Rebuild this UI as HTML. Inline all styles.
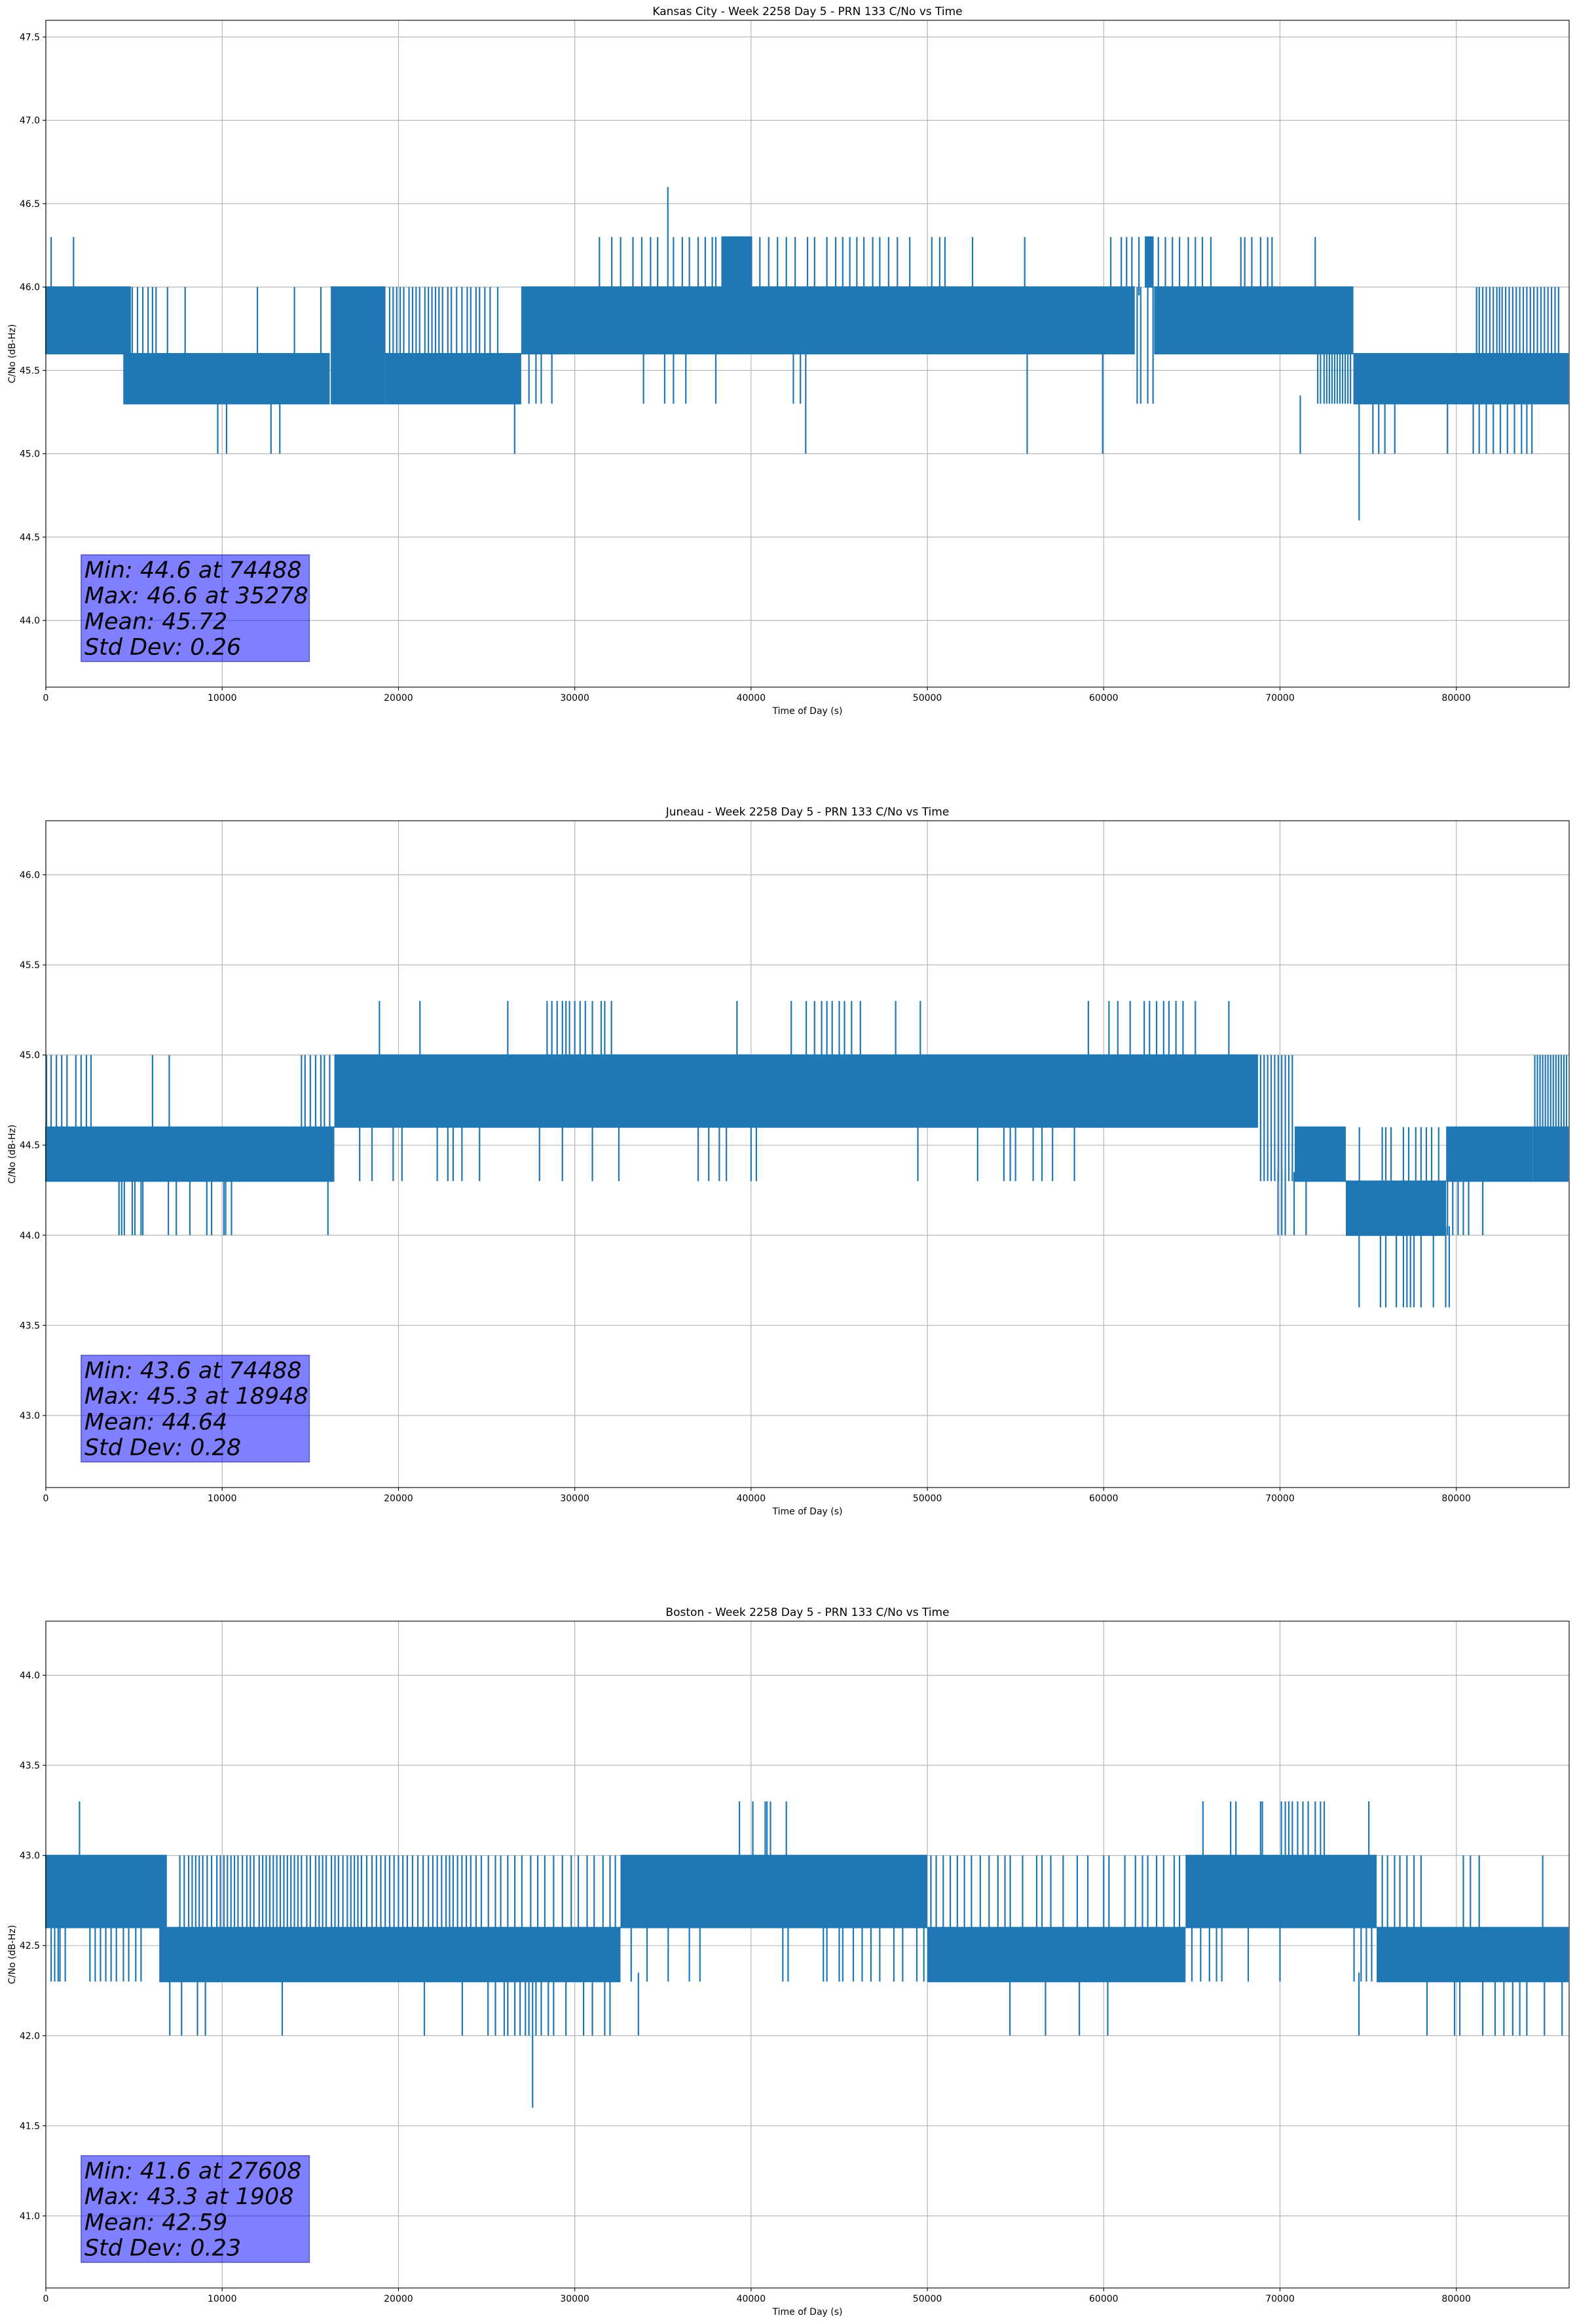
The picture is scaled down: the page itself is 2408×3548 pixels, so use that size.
<!DOCTYPE html>
<html><head><meta charset="utf-8"><title>PRN 133 C/No vs Time</title>
<style>
html,body{margin:0;padding:0;background:#fff;}
svg{display:block;font-family:"DejaVu Sans","Liberation Sans",sans-serif;}
</style></head>
<body>
<svg id="fig" width="2408" height="3548" viewBox="0 0 2408 3548" xmlns="http://www.w3.org/2000/svg"></svg>
<script>
// ---------- shared axis data ----------
const xTicks = [0,10000,20000,30000,40000,50000,60000,70000,80000];
const xMax = 86400;

// ---------- Kansas City ----------
const kcTitle = "Kansas City - Week 2258 Day 5 - PRN 133 C/No vs Time";
const kcYRange = [43.6, 47.6];
const kcYTicks = [44.0,44.5,45.0,45.5,46.0,46.5,47.0,47.5];
const kcBandT0 = [0, 4430, 16200, 19300, 27000, 62900, 74200, 38350, 62370];
const kcBandT1 = [4860, 16140, 19300, 27000, 61800, 74200, 86400, 40100, 62870];
const kcBandLo = [45.6, 45.3, 45.3, 45.3, 45.6, 45.6, 45.3, 46.0, 46.0];
const kcBandHi = [46.0, 45.6, 46.0, 45.6, 46.0, 46.0, 45.6, 46.3, 46.3];
const kcUpT = [300,1570,31400,32100,32600,33300,33800,34300,34700,35600,36100,36500,37000,37400,37800,38000,40500,41000,41500,42000,42500,43200,43600,44300,44800,45200,45600,46000,46400,46900,47300,47800,48300,49000,50250,50700,51000,52560,55520,60400,61000,61300,61600,62000,63100,63500,63900,64300,64800,65200,65600,66080,67780,68000,68400,68900,69300,69550,72000];
const kcSpanT = [4600,4900,5200,5500,5800,6050,6250,6900,7900,12000,14100,15600,19500,19700,19900,20100,20300,20600,20800,21000,21200,21500,21700,21900,22100,22300,22500,22800,23000,23300,23600,23900,24100,24400,24600,24900,25200,25630,27400,27800,28100,28700,61900,62100,62500,62800,72140,72300,72500,72650,72800,72950,73100,73250,73400,73550,73700,73850,74000,81150,81300,81500,81700,81900,82100,82300,82450,82600,82800,83000,83200,83400,83600,83800,84000,84200,84400,84600,84800,85000,85200,85400,85600,85800];
const kcDownT = [33900,35100,35600,36300,38000,42400,42800];
const kcDipT = [9750,10250,12770,13270,26590,71150,75270,75600,75950,76510,79500,80960,81300,81700,82100,82500,82900,83300,83700,84000,84290];
const kcDeepDipT = [43100,55660,59940];
const kcExtremeT = [35278, 74488];
const kcExtremeLo = [46.0, 44.6];
const kcExtremeHi = [46.6, 45.3];
const kcStats = ["Min: 44.6 at 74488","Max: 46.6 at 35278","Mean: 45.72","Std Dev: 0.26"];

// ---------- Juneau ----------
const juTitle = "Juneau - Week 2258 Day 5 - PRN 133 C/No vs Time";
const juYRange = [42.6, 46.3];
const juYTicks = [43.0,43.5,44.0,44.5,45.0,45.5,46.0];
const juBandT0 = [0, 16400, 70870, 73770, 79460, 84390];
const juBandT1 = [16400, 68790, 73770, 79460, 84390, 86400];
const juBandLo = [44.3, 44.6, 44.3, 44.0, 44.3, 44.3];
const juBandHi = [44.6, 45.0, 44.6, 44.3, 44.6, 44.6];
const juUpT = [18920,21220,26200,28430,28700,29000,29300,29500,29700,30000,30300,30600,31000,31500,31700,32080,39200,42280,43130,43600,44000,44300,44600,45000,45300,45700,46200,48200,49600,59130,60300,60800,61500,62300,62600,63000,63400,63700,64100,64500,65200,67100];
const juSpanT = [40,300,600,900,1200,1700,2000,2300,2560,6050,7000,14500,14700,15000,15300,15600,15800,16100,68900,69100,69300,69500,69700,69900,70100,70300,70500,70700,84450,84600,84750,84900,85050,85200,85350,85500,85650,85800,85950,86100,86250];
const juMidT = [74500,75800,76000,76300,77000,77300,77700,78000,78300,78600,79000];
const juDownT = [17800,18500,19700,20200,22200,22800,23100,23600,24600,28000,29300,31000,32500,37000,37600,38200,38600,40000,40300,49460,52850,54340,54700,55000,56000,56500,57100,58340];
const juDipT = [4150,4300,4450,4900,5050,5400,5500,6950,7400,8170,9130,9400,10100,10200,10530,16000,69890,70100,70300,70800,71480,79500,79800,80100,80400,80700,81500];
const juDeepDipT = [74488,75700,76000,76600,77000,77200,77400,77600,78000,78700,79400,79600];
const juStats = ["Min: 43.6 at 74488","Max: 45.3 at 18948","Mean: 44.64","Std Dev: 0.28"];

// ---------- Boston ----------
const boTitle = "Boston - Week 2258 Day 5 - PRN 133 C/No vs Time";
const boYRange = [40.6, 44.3];
const boYTicks = [41.0,41.5,42.0,42.5,43.0,43.5,44.0];
const boBandT0 = [0, 6470, 32630, 50030, 64680, 75520];
const boBandT1 = [6900, 32630, 50030, 64680, 75520, 86400];
const boBandLo = [42.6, 42.3, 42.6, 42.3, 42.6, 42.3];
const boBandHi = [43.0, 42.6, 43.0, 42.6, 43.0, 42.6];
const boSpanUpT = [7600,7850,8100,8300,8500,8700,8900,9150,9400,9700,9900,10100,10300,10500,10700,10900,11150,11400,11600,11800,12100,12300,12500,12700,12900,13100,13300,13500,13700,13900,14100,14300,14500,14800,15000,15300,15500,15700,15900,16200,16400,16600,16850,17100,17300,17500,17700,17900,18200,18500,18750,19000,19250,19500,19750,20000,20250,20500,20800,21100,21400,21700,21950,22200,22450,22700,22900,23100,23350,23600,23850,24100,24400,24700,25100,25500,25800,26200,26600,27000,27500,27900,28300,28800,29300,29800,30200,30700,31100,31600,32000,32300,50200,50500,50900,51300,51700,52100,52500,53000,53500,54000,54400,54700,55400,56200,56500,57000,57700,58500,59100,60000,60300,61200,61800,62200,62500,63000,63400,64000,64300,75800,76100,76500,76800,77200,77600,78000,80400,80800,81300,84900];
const boSpanDownT = [300,500,700,800,1100,2500,2800,3100,3400,3700,4000,4400,4700,5100,5400,33200,34100,35300,36500,37100,41800,42100,44100,44300,45000,45200,45800,46300,46800,47300,48100,48600,49400,49800,65000,65500,66000,66400,66700,68200,70000,74200,74600,74900,75200];
const boUpT = [1910,39340,40100,40800,40900,41100,42000,65630,67200,67500,68900,69000,70080,70300,70500,70700,71000,71300,71600,72000,72300,72510,75040];
const boDipT = [7030,7700,8600,9050,13410,21470,23620,25080,25500,26000,26200,26600,26900,27200,27400,27800,28100,28500,28800,29500,30500,31000,31700,32000,33610,54680,56700,58620,60230,74480,78340,79900,80200,81500,82200,82700,83200,83600,84000,85000,86000];
const boMinT = [27608];
const boStats = ["Min: 41.6 at 27608","Max: 43.3 at 1908","Mean: 42.59","Std Dev: 0.23"];

// ---------- drawing ----------
const NS = "http://www.w3.org/2000/svg";
const svg = document.getElementById('fig');
const AX_L = 70, AX_R = 2396, AX_H = 1018;
const BLUE = "#1f77b4";

function mk(tag, attrs, parent) {
  const e = document.createElementNS(NS, tag);
  for (const k in attrs) e.setAttribute(k, attrs[k]);
  (parent || svg).appendChild(e);
  return e;
}

function drawChart(prefix, top, title, yRange, yTicks, bands, spikeGroups, stats) {
  const g = mk('g', {});
  
  
  const bottom = top + AX_H;
  const xs = t => AX_L + t / xMax * (AX_R - AX_L);
  const ys = v => bottom - (v - yRange[0]) / (yRange[1] - yRange[0]) * AX_H;

  const tt = mk('text', {x: (AX_L + AX_R) / 2, y: top - 8, 'font-size': 17, 'text-anchor': 'middle', fill: '#000'}, g);
  tt.textContent = title;
  
  

  const grid = mk('g', {stroke: '#b0b0b0', 'stroke-width': 1.1}, g);
  
  
  xTicks.forEach(t => mk('line', {x1: xs(t), x2: xs(t), y1: top, y2: bottom}, grid));
  yTicks.forEach(v => mk('line', {x1: AX_L, x2: AX_R, y1: ys(v), y2: ys(v)}, grid));

  const ser = mk('g', {}, g);
  
  
  for (let i = 0; i < bands.t0.length; i++) {
    const r = mk('rect', {x: xs(bands.t0[i]) - 1, y: ys(bands.hi[i]) - 1,
      width: Math.max(2, xs(bands.t1[i]) - xs(bands.t0[i])), height: ys(bands.lo[i]) - ys(bands.hi[i]) + 2, fill: BLUE}, ser);
    
    
  }
  spikeGroups.forEach(sg => {
    sg.times.forEach(t => {
      const l = mk('line', {x1: xs(t), x2: xs(t), y1: ys(sg.hi), y2: ys(sg.lo), stroke: BLUE, 'stroke-width': 2.2}, ser);
      
      
    });
  });

  const sp = mk('rect', {x: AX_L, y: top, width: AX_R - AX_L, height: AX_H, fill: 'none', stroke: '#000', 'stroke-width': 1.1}, g);
  
  

  const tk = mk('g', {'font-size': 14, fill: '#000'}, g);
  
  
  xTicks.forEach(t => {
    mk('line', {x1: xs(t), x2: xs(t), y1: bottom, y2: bottom + 5, stroke: '#000', 'stroke-width': 1.1}, tk);
    const tx = mk('text', {x: xs(t), y: bottom + 21, 'text-anchor': 'middle'}, tk);
    tx.textContent = String(t);
    
    
  });
  yTicks.forEach(v => {
    mk('line', {x1: AX_L - 5, x2: AX_L, y1: ys(v), y2: ys(v), stroke: '#000', 'stroke-width': 1.1}, tk);
    const ty = mk('text', {x: AX_L - 9, y: ys(v) + 5, 'text-anchor': 'end'}, tk);
    ty.textContent = v.toFixed(1);
    
    
  });

  const xl = mk('text', {x: (AX_L + AX_R) / 2, y: bottom + 41, 'font-size': 14, 'text-anchor': 'middle'}, g);
  xl.textContent = 'Time of Day (s)';
  
  
  const yl = mk('text', {x: 0, y: 0, 'font-size': 14, 'text-anchor': 'middle', transform: `translate(23,${(top + bottom) / 2}) rotate(-90)`}, g);
  yl.textContent = 'C/No (dB-Hz)';
  
  

  const bx = mk('g', {}, g);
  
  
  const boxTop = top + 816;
  mk('rect', {x: xs(2000), y: boxTop, width: xs(14950) - xs(2000), height: 163,
    fill: 'rgba(0,0,255,0.5)', stroke: 'rgba(0,0,128,0.5)', 'stroke-width': 1.5}, bx);
  stats.forEach((s, i) => {
    const t = mk('text', {x: xs(2000) + 5, y: boxTop + 35 + i * 39.2, 'font-size': 35, 'font-style': 'italic', fill: '#000'}, bx);
    t.textContent = s;
    
    
  });
}

drawChart('kansas-city', 31, kcTitle, kcYRange, kcYTicks,
  {t0: kcBandT0, t1: kcBandT1, lo: kcBandLo, hi: kcBandHi},
  [
    {times: kcUpT, lo: 45.95, hi: 46.3},
    {times: kcSpanT, lo: 45.3, hi: 46.0},
    {times: kcDownT, lo: 45.3, hi: 45.65},
    {times: kcDipT, lo: 45.0, hi: 45.35},
    {times: kcDeepDipT, lo: 45.0, hi: 45.65},
    {times: [kcExtremeT[0]], lo: kcExtremeLo[0], hi: kcExtremeHi[0]},
    {times: [kcExtremeT[1]], lo: kcExtremeLo[1], hi: kcExtremeHi[1]}
  ], kcStats);

drawChart('juneau', 1253, juTitle, juYRange, juYTicks,
  {t0: juBandT0, t1: juBandT1, lo: juBandLo, hi: juBandHi},
  [
    {times: juUpT, lo: 44.95, hi: 45.3},
    {times: juSpanT, lo: 44.3, hi: 45.0},
    {times: juMidT, lo: 44.0, hi: 44.6},
    {times: juDownT, lo: 44.3, hi: 44.65},
    {times: juDipT, lo: 44.0, hi: 44.35},
    {times: juDeepDipT, lo: 43.6, hi: 44.05}
  ], juStats);

drawChart('boston', 2475, boTitle, boYRange, boYTicks,
  {t0: boBandT0, t1: boBandT1, lo: boBandLo, hi: boBandHi},
  [
    {times: boSpanUpT, lo: 42.3, hi: 43.0},
    {times: boSpanDownT, lo: 42.3, hi: 43.0},
    {times: boUpT, lo: 42.95, hi: 43.3},
    {times: boDipT, lo: 42.0, hi: 42.35},
    {times: boMinT, lo: 41.6, hi: 42.35}
  ], boStats);
</script>
</body></html>
